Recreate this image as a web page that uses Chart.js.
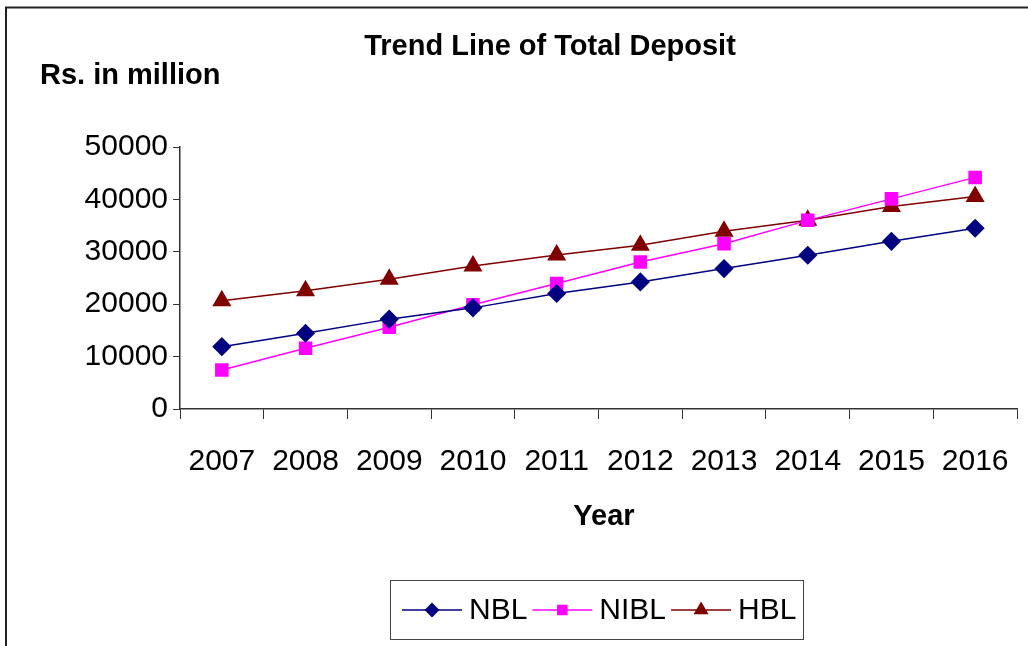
<!DOCTYPE html>
<html>
<head>
<meta charset="utf-8">
<title>Trend Line of Total Deposit</title>
<script src="https://cdn.jsdelivr.net/npm/chart.js@4.4.1/dist/chart.umd.min.js"></script>
<style>
  html, body { margin: 0; padding: 0; background: #fff; }
  #wrap { position: relative; width: 1028px; height: 646px; }
</style>
</head>
<body>
<div id="wrap"><canvas id="deposit" width="1028" height="646"></canvas></div>
<script>
// 数据：总存款（Rs. in million）
const years = ['2007', '2008', '2009', '2010', '2011', '2012', '2013', '2014', '2015', '2016'];
const nbl  = [11900, 14450, 17150, 19300, 22050, 24250, 26800, 29350, 32000, 34500];
const nibl = [7450, 11600, 15600, 19900, 23950, 28050, 31550, 36000, 40100, 44200];
const hbl  = [20650, 22550, 24750, 27300, 29400, 31250, 33900, 36000, 38650, 40550];
const yTickStep = 10000;
const yMax = 50000;

const FONT = "'Liberation Sans', Arial, sans-serif";

/** 外框、标题、坐标轴标题、图例 — 仿 Excel 风格 */
const excelDecor = {
  id: 'excelDecor',
  afterDraw(chart) {
    const ctx = chart.ctx;
    ctx.save();
    // 外框（右下超出画面）
    ctx.strokeStyle = '#222';
    ctx.lineWidth = 2;
    ctx.strokeRect(6, 7.5, 1100, 700);

    // 文字
    ctx.fillStyle = '#000';
    ctx.textBaseline = 'middle';
    ctx.font = 'bold 29px ' + FONT;
    ctx.textAlign = 'center';
    ctx.fillText('Trend Line of Total Deposit', 550, 47);
    ctx.fillText('Year', 604, 517);
    ctx.textAlign = 'left';
    ctx.fillText('Rs. in million', 40, 76);

    // 图例框
    ctx.strokeStyle = '#444';
    ctx.lineWidth = 1;
    ctx.strokeRect(390.5, 580.5, 413, 59);
    ctx.font = '30px ' + FONT;
    let x = 402;
    const y = 610;
    chart.data.datasets.forEach(ds => {
      ctx.strokeStyle = ds.borderColor;
      ctx.lineWidth = 1.5;
      ctx.beginPath();
      ctx.moveTo(x, y);
      ctx.lineTo(x + 60, y);
      ctx.stroke();
      ctx.fillStyle = ds.pointBackgroundColor;
      ctx.strokeStyle = ds.borderColor;
      Chart.helpers.drawPoint(ctx, { pointStyle: ds.pointStyle, radius: ds.pointRadius * 0.75, borderWidth: 1, rotation: 0 }, x + 30, y);
      ctx.fillStyle = '#000';
      ctx.fillText(ds.label, x + 67, y + 1);
      x += 67 + ctx.measureText(ds.label).width + 5;
    });
    ctx.restore();
  }
};

function series(label, data, color, style, r) {
  return {
    label, data,
    borderColor: color, backgroundColor: color,
    pointBackgroundColor: color, pointBorderColor: color,
    pointStyle: style, pointRadius: r, pointHoverRadius: r,
    borderWidth: 1.5, tension: 0, fill: false
  };
}

new Chart(document.getElementById('deposit').getContext('2d'), {
  type: 'line',
  data: {
    labels: years,
    datasets: [
      series('NBL', nbl, '#000080', 'rectRot', 8.5),
      series('NIBL', nibl, '#FF00FF', 'rect', 8.5),
      series('HBL', hbl, '#800000', 'triangle', 9.5)
    ]
  },
  options: {
    responsive: false,
    animation: false,
    layout: { padding: { top: 147, right: 10, left: 0, bottom: 0 } },
    plugins: { legend: { display: false }, title: { display: false }, tooltip: { enabled: false } },
    scales: {
      x: {
        type: 'category',
        offset: true,
        grid: { offset: true, drawOnChartArea: false, drawTicks: true, tickLength: 10, color: '#333' },
        border: { color: '#333', width: 1.5 },
        ticks: { color: '#000', font: { family: FONT, size: 30 }, padding: 25, maxRotation: 0, autoSkip: false },
        afterFit(scale) {
          scale.height = 237;
          scale.paddingLeft = 0;
          scale.paddingRight = 0;
        }
      },
      y: {
        min: 0, max: yMax,
        grid: { drawOnChartArea: false, drawTicks: true, tickLength: 7, color: '#333' },
        border: { color: '#333', width: 1.5 },
        ticks: { stepSize: yTickStep, color: '#000', font: { family: FONT, size: 30 }, padding: 5,
          callback: v => String(v) },
        afterFit(scale) { scale.width = 180; }
      }
    }
  },
  plugins: [excelDecor]
});
</script>
</body>
</html>
